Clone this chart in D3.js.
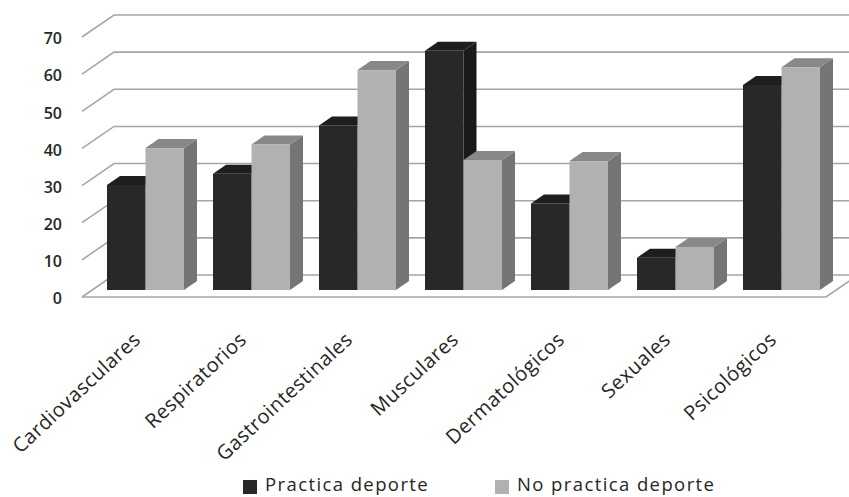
<!DOCTYPE html>
<html>
<head>
<meta charset="utf-8">
<script src="https://cdn.jsdelivr.net/npm/d3@7"></script>
<style>
html,body{margin:0;padding:0;background:#fff;overflow:hidden}
svg{display:block}
text{font-family:"Open Sans",sans-serif;fill:#262626}
</style>
</head>
<body>
<svg id="chart" width="849" height="497"></svg>
<script>
const categories = ["Cardiovasculares","Respiratorios","Gastrointestinales","Musculares","Dermatológicos","Sexuales","Psicológicos"];
const practica = [28.3,31.3,44.3,64.4,23.3,8.7,55.2];
const noPractica = [38.2,39.2,59.2,35,34.7,11.6,60];
const seriesNames = ["Practica deporte","No practica deporte"];
const yTicks = [0,10,20,30,40,50,60,70];

const svg = d3.select("#chart");

// Front plane of the box; the back wall is shifted by the depth vector.
const x = d3.scaleBand().domain(categories).range([82,824]);
const sub = d3.scaleBand().domain([0,1]).range([25,25+77]);
const yFloor = d3.scaleLinear().domain([0,70]).range([297,37]);
const wall = {dx:32, dy:-22};
const bar = {dx:13, dy:-9, base:-7};

const palette = [
  {front:"#282828", top:"#1e1e1e", side:"#1a1a1a"},
  {front:"#b1b1b1", top:"#888888", side:"#757575"}
];

// Grid: a slanted stub on the left side wall, then a line along the back wall.
const grid = svg.append("g").attr("fill","none").attr("stroke","#a6a6a6").attr("stroke-width",1.6);
grid.selectAll("path").data(yTicks).join("path")
  .attr("d", t => {
    const y0 = yFloor(t);
    return d3.line()([[x.range()[0],y0],[x.range()[0]+wall.dx,y0+wall.dy],[860,y0+wall.dy]]);
  });

// Floor edge along the front, turning back at the right corner.
const floorEnd = x.range()[1]+2;
grid.append("path")
  .attr("d", d3.line()([[x.range()[0],yFloor(0)],[floorEnd,yFloor(0)],[floorEnd+wall.dx,yFloor(0)+wall.dy]]));

// Value axis labels.
const yAxis = d3.axisLeft(yFloor).tickValues(yTicks).tickSize(0).tickPadding(0);
const yG = svg.append("g").attr("transform","translate(62,0)").call(yAxis);
yG.select(".domain").remove();
yG.selectAll("text").style("font-size","16px").style("font-weight","600").attr("fill","#262626").attr("dy","0.42em");

// Three-face columns: side and top are offset from the front by the bar depth.
const seriesData = [practica,noPractica];
const bars = svg.append("g");
categories.forEach((c,i) => {
  seriesData.forEach((vals,s) => {
    const x0 = x(c)+sub(s), x1 = x0+sub.bandwidth();
    const y0 = yFloor(0)+bar.base, y1 = yFloor(vals[i])+bar.base;
    const col = palette[s];
    const g = bars.append("g");
    g.append("path").attr("fill",col.side)
      .attr("d", d3.line()([[x1,y0],[x1+bar.dx,y0+bar.dy],[x1+bar.dx,y1+bar.dy],[x1,y1]])+"Z");
    g.append("path").attr("fill",col.top)
      .attr("d", d3.line()([[x0,y1],[x0+bar.dx,y1+bar.dy],[x1+bar.dx,y1+bar.dy],[x1,y1]])+"Z");
    g.append("rect").attr("x",x0).attr("y",y1).attr("width",x1-x0).attr("height",y0-y1).attr("fill",col.front);
  });
});

// Slanted category labels, ending under each group.
const xAxis = d3.axisBottom(x).tickSize(0).tickPadding(0);
const xG = svg.append("g").call(xAxis);
xG.select(".domain").remove();
xG.selectAll(".tick").attr("transform", d => `translate(${x(d)+x.bandwidth()/2+2},336) rotate(-43)`);
xG.selectAll("text").attr("x",0).attr("y",0).attr("dy","0.35em").attr("text-anchor","end")
  .style("font-size","20px").style("letter-spacing","0.45px").attr("fill","#262626");

// Legend along the bottom edge.
const legendItems = [{sx:243,tx:265},{sx:495,tx:517}];
const lg = svg.append("g");
legendItems.forEach((p,i) => {
  lg.append("rect").attr("x",p.sx).attr("y",480).attr("width",14).attr("height",14).attr("fill",palette[i].front);
  lg.append("text").attr("x",p.tx).attr("y",491).style("font-size","18.5px").style("letter-spacing","1.4px").text(seriesNames[i]);
});
</script>
</body>
</html>
